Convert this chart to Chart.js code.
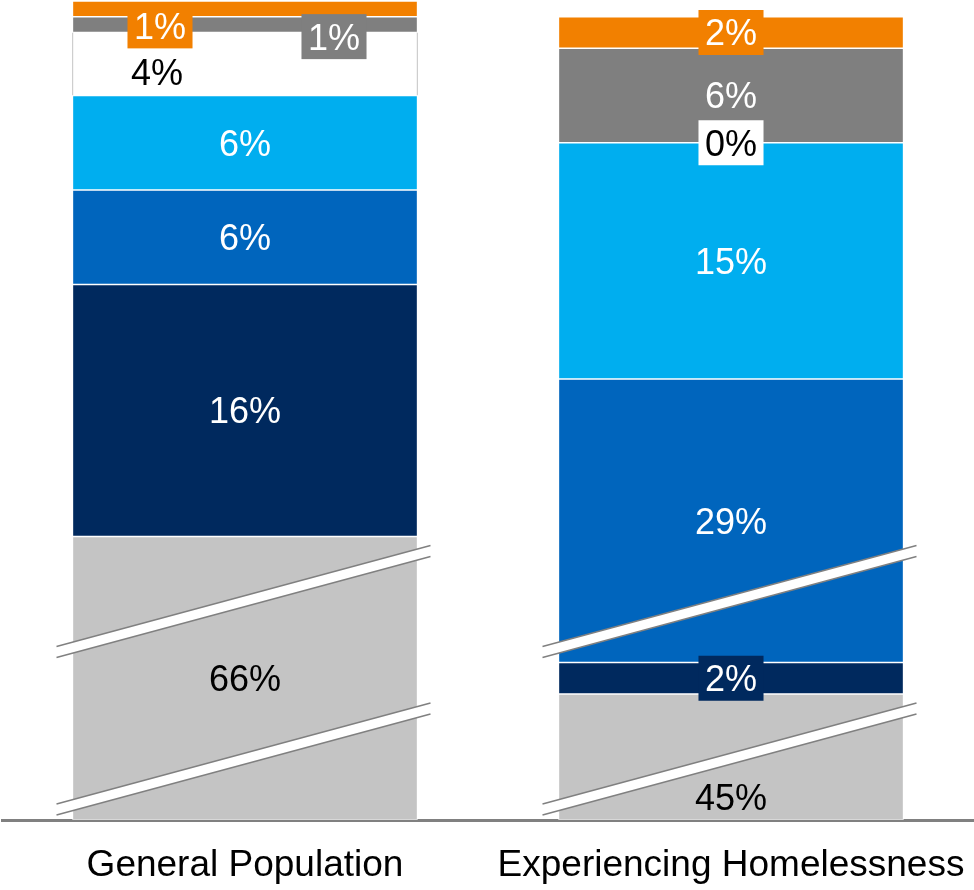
<!DOCTYPE html>
<html>
<head>
<meta charset="utf-8">
<script src="https://cdn.jsdelivr.net/npm/chart.js@4/dist/chart.umd.min.js"></script>
<style>
  html, body { margin: 0; padding: 0; background: #ffffff; overflow: hidden; }
  #wrap { width: 974px; height: 890px; }
  canvas { display: block; }
</style>
</head>
<body>
<div id="wrap"><canvas id="chart" width="974" height="890"></canvas></div>
<script>
// Categories along the x axis
const categories = ['General Population', 'Experiencing Homelessness'];

// Shares (%) per stacked segment, listed bottom to top
const shareLightGray = [66, 45];
const shareNavy      = [16, 2];
const shareMidBlue   = [6, 29];
const shareSkyBlue   = [6, 15];
const shareWhite     = [4, 0];
const shareGray      = [1, 6];
const shareOrange    = [1, 2];

// Amount hidden by the axis break inside tall segments
const breakLightGray = [48, 37];
const breakMidBlue   = [0, 11];

// Where the break marks sit on the (broken) value axis
const breakMarks = [3.9, 13.9];

const FONT = '"Liberation Sans", Arial, Helvetica, sans-serif';

const series = [
  { name: 'Segment 1', values: shareLightGray, cut: breakLightGray, color: '#c4c4c4', text: '#000000' },
  { name: 'Segment 2', values: shareNavy,      cut: null,           color: '#00295e', text: '#ffffff' },
  { name: 'Segment 3', values: shareMidBlue,   cut: breakMidBlue,   color: '#0065bd', text: '#ffffff' },
  { name: 'Segment 4', values: shareSkyBlue,   cut: null,           color: '#00aeef', text: '#ffffff' },
  { name: 'Segment 5', values: shareWhite,     cut: null,           color: '#ffffff', text: '#000000' },
  { name: 'Segment 6', values: shareGray,      cut: null,           color: '#7f7f7f', text: '#ffffff' },
  { name: 'Segment 7', values: shareOrange,    cut: null,           color: '#f28000', text: '#ffffff' }
];

// Label placement tweaks keyed "dataset-category": offsets and an optional backing box
const labelTweaks = {
  '0-1': { dx: 0, dy: 40 },
  '1-1': { box: true },
  '4-0': { dx: -88, dy: 8 },
  '4-1': { box: true },
  '5-0': { dx: 89, dy: 12, box: true },
  '6-0': { dx: -85, dy: 17, box: true },
  '6-1': { box: true }
};

const datasets = series.map(s => ({
  label: s.name,
  data: s.values.map((v, i) => v - (s.cut ? s.cut[i] : 0)),
  backgroundColor: s.color,
  borderColor: s.color === '#ffffff' ? '#b8b8b8' : 'rgba(255,255,255,0.75)',
  borderWidth: s.color === '#ffffff' ? { left: 1, right: 1, top: 0, bottom: 0 } : 1,
  borderSkipped: false,
  barThickness: 345
}));

// Value labels, drawn centred on each segment
const segmentLabels = {
  id: 'segmentLabels',
  afterDatasetsDraw(chart) {
    const ctx = chart.ctx;
    const size = 36;
    ctx.save();
    ctx.font = size + 'px ' + FONT;
    ctx.textAlign = 'center';
    ctx.textBaseline = 'alphabetic';
    series.forEach((s, di) => {
      const meta = chart.getDatasetMeta(di);
      meta.data.forEach((bar, ci) => {
        const t = labelTweaks[di + '-' + ci] || {};
        const text = s.values[ci] + '%';
        const cx = bar.x + (t.dx || 0);
        const cy = (bar.y + bar.base) / 2 + (t.dy || 0);
        if (t.box) {
          const w = ctx.measureText(text).width + 13;
          const h = 45;
          ctx.fillStyle = s.color;
          ctx.fillRect(cx - w / 2, cy - h / 2, w, h);
        }
        ctx.fillStyle = s.text;
        ctx.fillText(text, cx, cy + size * 0.358);
      });
    });
    ctx.restore();
  }
};

// Diagonal double-line marks showing the axis break
const axisBreaks = {
  id: 'axisBreaks',
  afterDatasetsDraw(chart) {
    const ctx = chart.ctx;
    const y = chart.scales.y;
    const meta = chart.getDatasetMeta(0);
    const slope = 0.27, half = 5.5;
    ctx.save();
    meta.data.forEach(bar => {
      const left = bar.x - bar.width / 2 - 16;
      const right = bar.x + bar.width / 2 + 13;
      breakMarks.forEach(v => {
        const yc = y.getPixelForValue(v);
        const at = (x, off) => yc + off - slope * (x - bar.x);
        ctx.beginPath();
        ctx.moveTo(left, at(left, -half));
        ctx.lineTo(right, at(right, -half));
        ctx.lineTo(right, at(right, half));
        ctx.lineTo(left, at(left, half));
        ctx.closePath();
        ctx.fillStyle = '#ffffff';
        ctx.fill();
        ctx.strokeStyle = '#808080';
        ctx.lineWidth = 1.5;
        [-half, half].forEach(off => {
          ctx.beginPath();
          ctx.moveTo(left, at(left, off));
          ctx.lineTo(right, at(right, off));
          ctx.stroke();
        });
      });
    });
    ctx.restore();
  }
};

new Chart(document.getElementById('chart'), {
  type: 'bar',
  data: { labels: categories, datasets },
  plugins: [axisBreaks, segmentLabels],
  options: {
    responsive: false,
    animation: false,
    devicePixelRatio: 1,
    layout: { autoPadding: false, padding: { top: 1, left: 2, right: 0, bottom: 0 } },
    plugins: { legend: { display: false }, tooltip: { enabled: false } },
    scales: {
      x: {
        stacked: true,
        grid: { display: false, drawTicks: false },
        border: { display: true, color: '#808080', width: 3 },
        ticks: { color: '#000000', font: { family: FONT, size: 37 }, padding: 24, maxRotation: 0 },
        afterFit(scale) {
          scale.height = 70;
          scale.paddingLeft = 0;
          scale.paddingRight = 0;
        }
      },
      y: { stacked: true, display: false, min: 0, max: 52 }
    }
  }
});
</script>
</body>
</html>
